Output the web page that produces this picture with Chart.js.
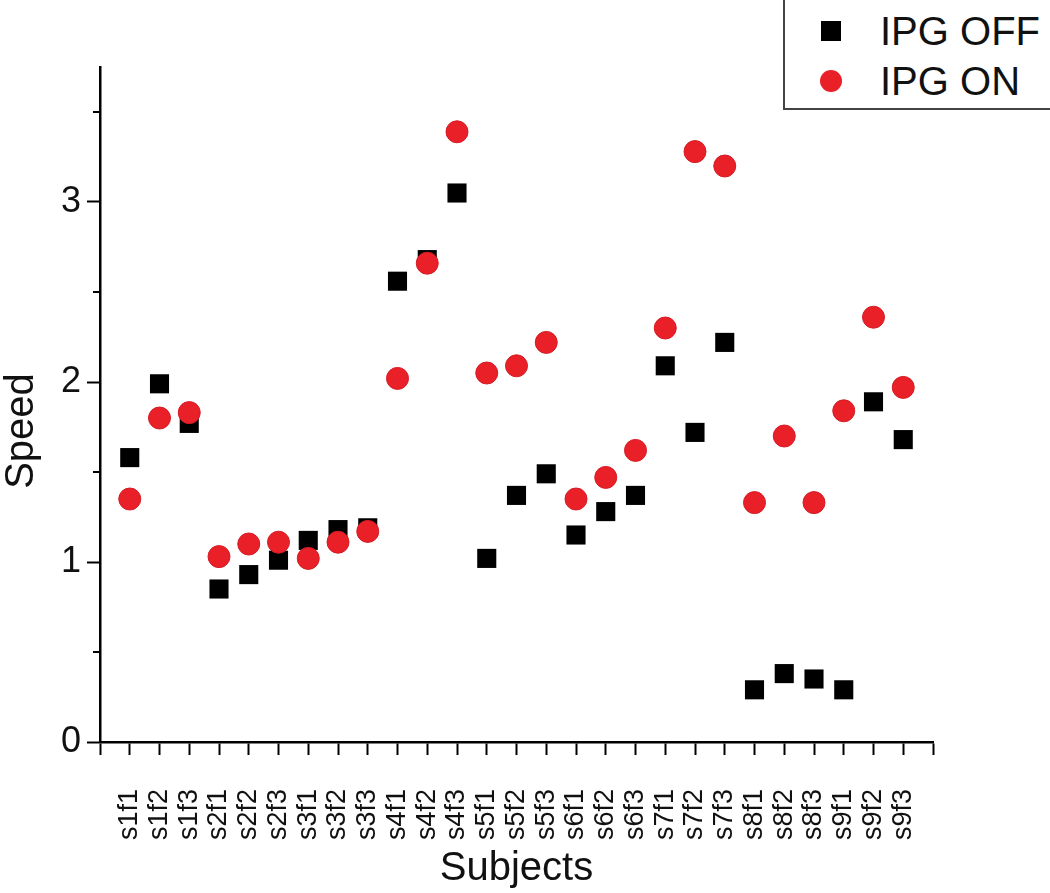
<!DOCTYPE html>
<html>
<head>
<meta charset="utf-8">
<script src="https://cdn.jsdelivr.net/npm/chart.js@4/dist/chart.umd.min.js"></script>
<style>
  body { margin: 0; background: #fff; }
  #wrap { position: relative; width: 1050px; height: 893px; overflow: hidden; }
  #legend {
    position: absolute; left: 783px; top: -2px; width: 300px; height: 108px;
    border: 2px solid #444; background: #fff;
    font-family: "Liberation Sans", Arial, sans-serif; font-size: 40px; color: #111;
  }
  .row { position: absolute; left: 0; height: 48px; line-height: 48px; }
  .mk { position: absolute; }
  .lb { position: absolute; left: 95px; white-space: nowrap; }
</style>
</head>
<body>
<div id="wrap">
  <canvas id="chart" width="1050" height="893"></canvas>
  <div id="legend"></div>
</div>
<script>
// sujets / essais
var subjects = ['s1f1', 's1f2', 's1f3', 's2f1', 's2f2', 's2f3', 's3f1', 's3f2', 's3f3',
    's4f1', 's4f2', 's4f3', 's5f1', 's5f2', 's5f3', 's6f1', 's6f2', 's6f3',
    's7f1', 's7f2', 's7f3', 's8f1', 's8f2', 's8f3', 's9f1', 's9f2', 's9f3'];

// vitesse sans stimulation
var ipgOff = [1.58, 1.99, 1.77, 0.85, 0.93, 1.01, 1.12, 1.18, 1.19,
    2.56, 2.68, 3.05, 1.02, 1.37, 1.49, 1.15, 1.28, 1.37,
    2.09, 1.72, 2.22, 0.29, 0.38, 0.35, 0.29, 1.89, 1.68];

// vitesse avec stimulation
var ipgOn = [1.35, 1.80, 1.83, 1.03, 1.10, 1.11, 1.02, 1.11, 1.17,
    2.02, 2.66, 3.39, 2.05, 2.09, 2.22, 1.35, 1.47, 1.62,
    2.30, 3.28, 3.20, 1.33, 1.70, 1.33, 1.84, 2.36, 1.97];

var yTicks = [0, 1, 2, 3];
var xTitle = 'Subjects';
var yTitle = 'Speed';

var font = '"Liberation Sans", Arial, sans-serif';

function toPoints(values) {
    return values.map(function (v, i) { return { x: i, y: v }; });
}

// petits traits intermédiaires + titre vertical
var extras = {
    id: 'extras',
    afterDraw: function (chart) {
        var ctx = chart.ctx;
        var y = chart.scales.y;
        var left = chart.chartArea.left;
        ctx.save();
        ctx.strokeStyle = '#000';
        ctx.lineWidth = 2;
        y.ticks.forEach(function (t) {
            if (yTicks.indexOf(t.value) === -1 && t.value < y.max) {
                var py = Math.round(y.getPixelForValue(t.value));
                ctx.beginPath();
                ctx.moveTo(left, py);
                ctx.lineTo(left - 7, py);
                ctx.stroke();
            }
        });
        ctx.translate(22, 431);
        ctx.rotate(-Math.PI / 2);
        ctx.font = '40px ' + font;
        ctx.fillStyle = '#111';
        ctx.textAlign = 'center';
        ctx.textBaseline = 'middle';
        ctx.fillText(yTitle, 0, 0);
        ctx.restore();
    }
};

var ctx = document.getElementById('chart').getContext('2d');
var myChart = new Chart(ctx, {
    type: 'scatter',
    data: {
        datasets: [{
            label: 'IPG OFF',
            data: toPoints(ipgOff),
            pointStyle: 'rect',
            pointRadius: 13.5,
            pointHoverRadius: 13.5,
            backgroundColor: '#000',
            borderColor: '#000',
            borderWidth: 0,
            order: 1
        }, {
            label: 'IPG ON',
            data: toPoints(ipgOn),
            pointStyle: 'circle',
            pointRadius: 11,
            pointHoverRadius: 11,
            backgroundColor: '#ea2029',
            borderColor: '#d41c24',
            borderWidth: 1,
            order: 0
        }]
    },
    options: {
        responsive: false,
        animation: false,
        layout: { padding: { top: 67, right: 117, left: 0, bottom: 0 } },
        plugins: {
            legend: { display: false },
            tooltip: { enabled: false }
        },
        scales: {
            x: {
                type: 'linear',
                min: -1,
                max: subjects.length,
                afterFit: function (s) { s.height = 151; },
                border: { display: true, color: '#000', width: 2.5 },
                grid: { drawOnChartArea: false, drawTicks: true, tickLength: 13, tickWidth: 2, tickColor: '#000' },
                ticks: {
                    stepSize: 1,
                    autoSkip: false,
                    minRotation: 90,
                    maxRotation: 90,
                    padding: 34,
                    color: '#111',
                    font: { family: font, size: 27 },
                    callback: function (v) { return subjects[v] || ''; }
                },
                title: {
                    display: true,
                    text: xTitle,
                    color: '#111',
                    font: { family: font, size: 40 },
                    padding: { top: 0, bottom: 0 }
                }
            },
            y: {
                min: 0,
                max: 3.75,
                afterFit: function (s) { s.width = 100; },
                border: { display: true, color: '#000', width: 2.5 },
                grid: {
                    drawOnChartArea: false,
                    drawTicks: true,
                    tickLength: 13,
                    tickWidth: 2,
                    tickColor: function (c) {
                        return (c.tick && yTicks.indexOf(c.tick.value) !== -1) ? '#000' : 'rgba(0,0,0,0)';
                    }
                },
                ticks: {
                    stepSize: 0.5,
                    padding: 6,
                    color: '#111',
                    font: { family: font, size: 36 },
                    callback: function (v) { return yTicks.indexOf(v) !== -1 ? v : ''; }
                }
            }
        }
    },
    plugins: [extras]
});

// légende encadrée, construite à partir des jeux de données
var legend = document.getElementById('legend');
myChart.data.datasets.forEach(function (ds, i) {
    var row = document.createElement('div');
    row.className = 'row';
    row.style.top = (7 + i * 50) + 'px';
    var mk = document.createElement('span');
    mk.className = 'mk';
    if (ds.pointStyle === 'rect') {
        mk.style.cssText = 'left:36px;top:14px;width:20px;height:20px;background:' + ds.backgroundColor;
    } else {
        mk.style.cssText = 'left:35px;top:13px;width:22px;height:22px;border-radius:50%;background:' + ds.backgroundColor;
    }
    var lb = document.createElement('span');
    lb.className = 'lb';
    lb.textContent = ds.label;
    row.appendChild(mk);
    row.appendChild(lb);
    legend.appendChild(row);
});
</script>
</body>
</html>
